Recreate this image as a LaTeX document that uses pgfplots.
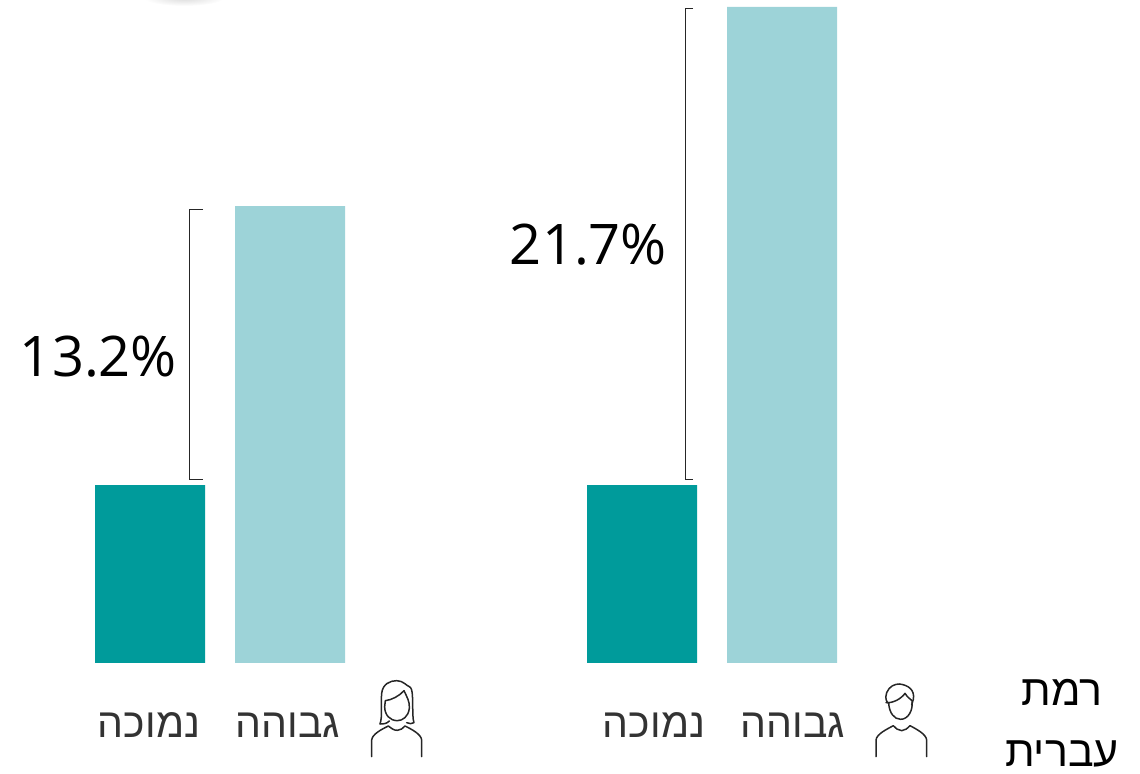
\documentclass[border=0pt]{standalone}
\usepackage{pgfplots}
\pgfplotsset{compat=1.18}
\usepackage{fontspec}
\setmainfont{Open Sans}
\newfontfamily\hebfont[Script=Hebrew]{Liberation Sans}
\TeXXeTstate=1
\definecolor{dark}{HTML}{009B9B}
\definecolor{light}{HTML}{9DD3D8}
\begin{document}
\begin{tikzpicture}
\useasboundingbox (0,0) rectangle (570pt,387pt);
% soft smudge at the top edge of the reference
\begin{scope}
\clip (0,0) rectangle (570pt,387pt);
\shade[inner color=black!14,outer color=white,draw=none] (92pt,388pt) ellipse (20pt and 4pt);
\end{scope}
\begin{axis}[
  at={(0,55.5pt)},anchor=south west,
  scale only axis,width=570pt,height=331.5pt,
  xmin=0,xmax=1140,ymin=0,ymax=30.136,
  axis line style={draw=none},
  ytick=\empty,
  major tick length=0pt,
  xtick={149,288,654,793},
  xticklabels={\beginR נמוכה\endR,\beginR גבוהה\endR,\beginR נמוכה\endR,\beginR גבוהה\endR},
  xticklabel style={font=\hebfont\fontsize{20.5}{24}\selectfont,text=black!80,anchor=center,yshift=-31pt},
  ybar,bar width=55pt,bar shift=0pt,clip=false,
]
\addplot[fill=dark,draw=none] coordinates {(150,8.09) (642,8.09)};
\addplot[fill=light,draw=none] coordinates {(290,20.77) (782,29.82)};
\end{axis}
\begin{scope}[shift={(0pt,387pt)},x=0.5pt,y=-0.5pt]
\draw[black!85,line width=0.4pt] (203,209)--(189,209)--(189,479)--(203,479);
\draw[black!85,line width=0.4pt] (693,8)--(685,8)--(685,479)--(693,479);
\node[font=\fontsize{28}{33}\selectfont,anchor=center] at (98.5,357) {13.2\%};
\node[font=\fontsize{28}{33}\selectfont,anchor=center] at (588.5,245) {21.7\%};
\node[font=\hebfont\fontsize{21.5}{26}\selectfont,anchor=center] at (1062,692) {\beginR רמת\endR};
\node[font=\hebfont\fontsize{21.5}{26}\selectfont,anchor=center] at (1062,754) {\beginR עברית\endR};
\end{scope}
% woman icon
\begin{scope}[shift={(170pt,57pt)},x=0.16667pt,y=-0.16667pt,line width=0.75pt,black!85,line cap=round,line join=round]
\draw (95,290)--(95,240) .. controls (97,222) and (125,208) .. (145,198) .. controls (155,205) and (160,211) .. (172,211) .. controls (182,211) and (188,205) .. (195,198) .. controls (215,208) and (243,222) .. (245,240)--(245,290);
\draw (120,192) .. controls (128,170) and (122,130) .. (125,100) .. controls (128,72) and (150,62) .. (170,62) .. controls (190,62) and (200,78) .. (208,80) .. controls (220,85) and (217,120) .. (218,140) .. controls (219,160) and (218,178) .. (222,188) .. controls (215,192) and (208,192) .. (200,188);
\draw (120,192) .. controls (128,192) and (140,192) .. (148,183);
\draw (136,122) .. controls (155,120) and (178,108) .. (192,92) .. controls (200,110) and (210,125) .. (208,145) .. controls (205,170) and (188,182) .. (172,182) .. controls (150,182) and (134,165) .. (134,140) -- (136,122);
\end{scope}
% man icon
\begin{scope}[shift={(430pt,57pt)},x=0.16667pt,y=-0.16667pt,line width=0.75pt,black!85,line cap=round,line join=round]
\draw (48,290)--(48,240) .. controls (50,222) and (80,208) .. (100,197) .. controls (108,205) and (114,212) .. (125,212) .. controls (135,212) and (142,205) .. (150,197) .. controls (170,208) and (198,222) .. (200,240)--(200,290);
\draw (86,130) .. controls (78,125) and (75,115) .. (80,98) .. controls (88,78) and (105,72) .. (118,72) .. controls (145,75) and (165,90) .. (160,118) -- (155,135);
\draw (78,128) .. controls (100,130) and (125,115) .. (135,100) .. controls (142,112) and (152,118) .. (156,122) .. controls (160,150) and (145,178) .. (122,178) .. controls (102,178) and (88,158) .. (86,130);
\end{scope}
\end{tikzpicture}
\end{document}
